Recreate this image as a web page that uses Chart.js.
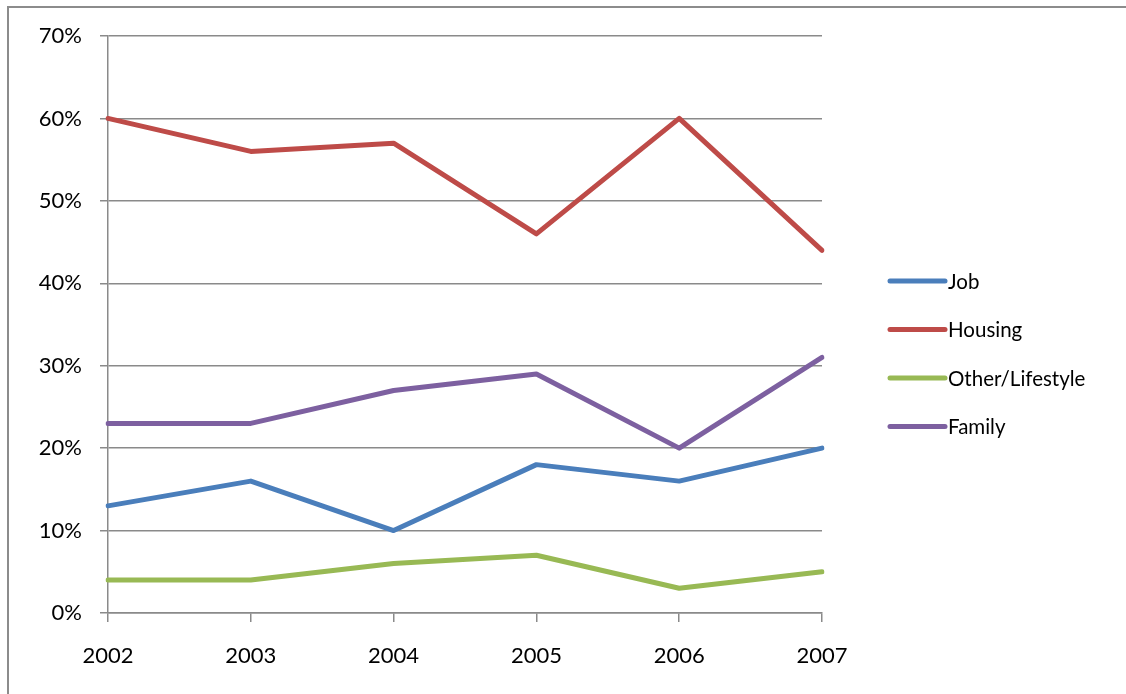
<!DOCTYPE html>
<html>
<head>
<meta charset="utf-8">
<script src="https://cdn.jsdelivr.net/npm/chart.js@4"></script>
<style>
  html, body { margin: 0; padding: 0; background: #fff; overflow: hidden; }
  #wrap { position: relative; width: 1126px; height: 694px; }
  #frame { position: absolute; left: 7px; top: 6px; width: 2000px; height: 2000px;
           border-left: 2px solid #8c8c8c; border-top: 2px solid #8c8c8c; }
  #box { position: absolute; left: 0; top: 0; width: 1126px; height: 694px; }
</style>
</head>
<body>
<div id="wrap">
  <div id="frame"></div>
  <div id="box"><canvas id="chart"></canvas></div>
</div>
<script>
// Data (percent)
const years = ["2002", "2003", "2004", "2005", "2006", "2007"];
const job = [13, 16, 10, 18, 16, 20];
const housing = [60, 56, 57, 46, 60, 44];
const otherLifestyle = [4, 4, 6, 7, 3, 5];
const family = [23, 23, 27, 29, 20, 31];
const yTicks = [0, 10, 20, 30, 40, 50, 60, 70];

const FONT = "Lato, 'Open Sans', sans-serif";
const GRID = "#8a8a8a";

function series(label, data, color) {
  return {
    label: label, data: data, borderColor: color, backgroundColor: color,
    borderWidth: 5, pointRadius: 0, borderCapStyle: "round", borderJoinStyle: "round",
    tension: 0, fill: false
  };
}

// Legend drawn at right, Excel style (line then text)
const sideLegend = {
  id: "sideLegend",
  afterDraw(chart) {
    const ctx = chart.ctx;
    const area = chart.chartArea;
    const x0 = area.right + 68, len = 55, top = 281, step = 48.5;
    ctx.save();
    ctx.font = "20.5px " + FONT;
    ctx.textBaseline = "middle";
    ctx.textAlign = "left";
    chart.data.datasets.forEach((ds, i) => {
      const y = top + i * step;
      ctx.strokeStyle = ds.borderColor;
      ctx.lineWidth = 5;
      ctx.lineCap = "round";
      ctx.beginPath();
      ctx.moveTo(x0, y);
      ctx.lineTo(x0 + len, y);
      ctx.stroke();
      ctx.fillStyle = "#000";
      ctx.fillText(ds.label, x0 + len + 3, y + 1);
    });
    ctx.restore();
  }
};

new Chart(document.getElementById("chart"), {
  type: "line",
  data: {
    labels: years,
    datasets: [
      series("Job", job, "#4a7ebb"),
      series("Housing", housing, "#be4b48"),
      series("Other/Lifestyle", otherLifestyle, "#98b954"),
      series("Family", family, "#7d60a0")
    ]
  },
  options: {
    responsive: true,
    maintainAspectRatio: false,
    animation: false,
    layout: { padding: { top: 36, right: 304, left: 0, bottom: 0 } },
    plugins: { legend: { display: false }, tooltip: { enabled: false } },
    scales: {
      x: {
        offset: false,
        grid: { display: true, drawOnChartArea: false, drawTicks: true, tickLength: 9, color: GRID, lineWidth: 1.5 },
        border: { display: true, color: GRID, width: 1.5 },
        ticks: { color: "#000", font: { family: FONT, size: 22 }, padding: 21, maxRotation: 0 },
        afterFit(scale) { scale.height = 81; }
      },
      y: {
        min: 0, max: 70,
        afterBuildTicks(scale) { scale.ticks = yTicks.map(v => ({ value: v })); },
        grid: { color: GRID, lineWidth: 1.5, tickLength: 8 },
        border: { display: true, color: GRID, width: 1.5 },
        ticks: { color: "#000", font: { family: FONT, size: 22 }, padding: 18, callback: v => v + "%" },
        afterFit(scale) { scale.width = 108; }
      }
    }
  },
  plugins: [sideLegend]
});
</script>
</body>
</html>
